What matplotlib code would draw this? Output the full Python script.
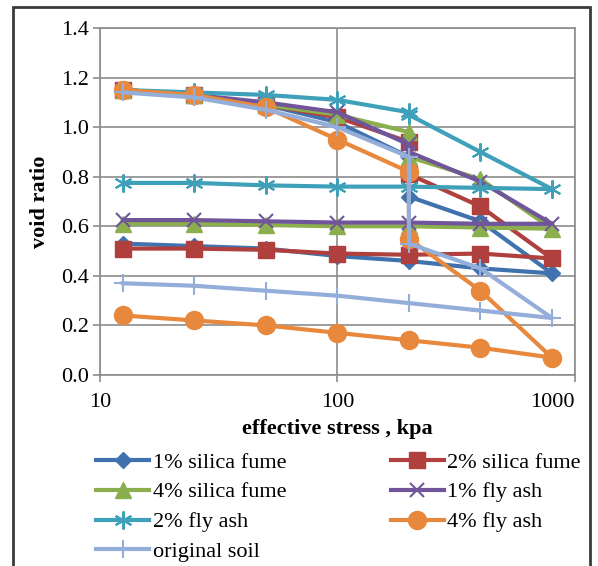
import matplotlib.pyplot as plt
from matplotlib.patches import Rectangle

# stress path: loading to 800 kPa (200 kPa reading taken twice), then unloading
stress = [12.5, 25, 50, 100, 200, 200, 400, 800, 400, 200, 100, 50, 25, 12.5]

sf1 = [1.15, 1.13, 1.09, 1.02, 0.88, 0.72, 0.62, 0.41, 0.43, 0.46, 0.48, 0.51, 0.52, 0.53]
sf2 = [1.15, 1.13, 1.09, 1.04, 0.94, 0.81, 0.68, 0.47, 0.49, 0.485, 0.49, 0.505, 0.51, 0.51]
sf4 = [1.15, 1.13, 1.09, 1.05, 0.98, 0.88, 0.79, 0.59, 0.595, 0.60, 0.60, 0.605, 0.61, 0.61]
fa1 = [1.15, 1.13, 1.10, 1.06, 0.93, 0.90, 0.78, 0.61, 0.61, 0.615, 0.615, 0.62, 0.625, 0.625]
fa2 = [1.15, 1.14, 1.13, 1.11, 1.06, 1.05, 0.90, 0.75, 0.755, 0.76, 0.76, 0.765, 0.775, 0.775]
fa4 = [1.15, 1.13, 1.08, 0.95, 0.82, 0.55, 0.34, 0.07, 0.11, 0.14, 0.17, 0.20, 0.22, 0.24]
soil = [1.14, 1.12, 1.07, 1.00, 0.88, 0.53, 0.43, 0.23, 0.26, 0.29, 0.32, 0.34, 0.36, 0.37]

labels = ['1% silica fume', '2% silica fume', '4% silica fume', '1% fly ash',
          '2% fly ash', '4% fly ash', 'original soil']
series = [sf1, sf2, sf4, fa1, fa2, fa4, soil]
colors = ['#3F72AE', '#B0403D', '#8BAF4C', '#71559A', '#3FA0BA', '#E8883C', '#94AEDA']
markers = ['D', 's', '^', 'x', (6, 2, 0), 'o', '+']
msizes = [8, 11, 11, 10, 13, 13, 13]

plt.rcParams['font.family'] = ['Liberation Serif', 'DejaVu Serif']

fig = plt.figure(figsize=(5.98, 5.66), dpi=100)
ax = fig.add_axes([0.167, 0.3375, 0.7945, 0.613])

lines = []
for y, lab, c, m, ms in zip(series, labels, colors, markers, msizes):
    thin = m in ('x', '+', (6, 2, 0))
    ln, = ax.plot(stress, y, color=c, lw=3, marker=m, ms=ms, mew=1.5 if thin else 1,
                  mec=c, mfc=c, label=lab)
    lines.append(ln)

ax.set_xscale('log')
ax.set_xlim(10, 1000)
ax.set_ylim(0, 1.4)
ax.set_yticks([0, 0.2, 0.4, 0.6, 0.8, 1.0, 1.2, 1.4])
ax.set_yticklabels(['0.0', '0.2', '0.4', '0.6', '0.8', '1.0', '1.2', '1.4'])
ax.set_xticks([10, 100, 1000])
ax.set_xticklabels(['10', '100', '1000'])
ax.get_xticklabels()[-1].set_horizontalalignment('right')
ax.minorticks_off()
ax.grid(True, color='#8c8c8c', lw=1.2)
ax.set_axisbelow(True)
for s in ax.spines.values():
    s.set_color('#8c8c8c')
    s.set_linewidth(1.2)
ax.tick_params(colors='#8c8c8c', labelcolor='black', labelsize=16, length=5, width=1.2)
ax.tick_params(axis='x', pad=8)
ax.tick_params(axis='y', pad=3)

ax.set_xlabel('effective stress , kpa', fontsize=16, fontweight='bold', labelpad=5)
ax.set_ylabel('void ratio', fontsize=16, fontweight='bold', labelpad=8)

# legend filled row by row: two entries per row
order = [0, 2, 4, 6, 1, 3, 5]
fig.legend([lines[i] for i in order], [labels[i] for i in order],
           loc='upper left', bbox_to_anchor=(96 / 598, 1 - 452 / 566), ncol=2, frameon=False,
           fontsize=16, handlelength=2.4, handletextpad=0.15, columnspacing=4.7,
           labelspacing=0.42, borderpad=0, borderaxespad=0)

fig.add_artist(Rectangle((13 / 598, -0.05), 577 / 598, 1.05 - 7 / 566, transform=fig.transFigure,
                         fill=False, ec='#3a3a3a', lw=2))

fig.savefig('out.png', dpi=100)
